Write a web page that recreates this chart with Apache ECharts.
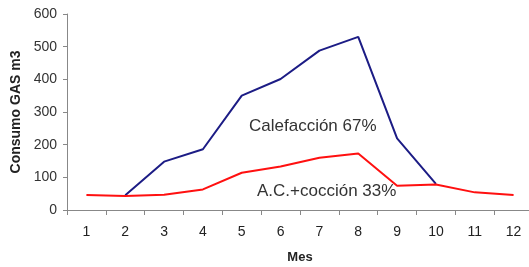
<!DOCTYPE html>
<html><head><meta charset="utf-8">
<script src="https://cdn.jsdelivr.net/npm/echarts@6/dist/echarts.min.js"></script>
<style>html,body{margin:0;padding:0;background:#fff}#c{width:529px;height:267px}</style>
</head><body><div id="c"></div>
<script>
const months = ['1','2','3','4','5','6','7','8','9','10','11','12'];
const calefaccion = [null, 45, 148, 186, 350, 401, 488, 530, 219, 80, null, null];
const acCoccion = [46, 43, 47, 63, 114, 133, 160, 173, 74, 78, 54, 46];
const yTicks = [0, 100, 200, 300, 400, 500, 600];
const labelCalef = 'Calefacción 67%';
const labelAC = 'A.C.+cocción 33%';

const chart = echarts.init(document.getElementById('c'));
const font = 'Liberation Sans, Arial, sans-serif';
chart.setOption({
  animation: false,
  grid: {left: 67, right: -4, top: 14, bottom: 57, containLabel: false, outerBoundsMode: 'none'},
  xAxis: {
    type: 'category', data: months, boundaryGap: true,
    name: 'Mes', nameLocation: 'middle', nameGap: 41,
    nameTextStyle: {fontFamily: font, fontWeight: 'bold', fontSize: 13, color: '#222'},
    axisLine: {lineStyle: {color: '#888', width: 1}},
    axisTick: {show: true, length: 5, lineStyle: {color: '#888'}},
    axisLabel: {fontFamily: font, fontSize: 14, color: '#222', margin: 15}
  },
  yAxis: {
    type: 'value', min: yTicks[0], max: yTicks[yTicks.length-1], interval: 100,
    name: 'Consumo GAS m3', nameLocation: 'middle', nameGap: 39, nameRotate: 90,
    nameTextStyle: {fontFamily: font, fontWeight: 'bold', fontSize: 14, color: '#222'},
    axisLine: {show: true, lineStyle: {color: '#888', width: 1}},
    axisTick: {show: true, length: 4, lineStyle: {color: '#888'}},
    splitLine: {show: false},
    axisLabel: {fontFamily: font, fontSize: 14, color: '#333', margin: 10}
  },
  series: [
    {type: 'line', data: calefaccion, symbol: 'none', connectNulls: false,
     lineStyle: {color: '#1c1c85', width: 2}, z: 2},
    {type: 'line', data: acCoccion, symbol: 'none',
     lineStyle: {color: '#ff1010', width: 2}, z: 3}
  ],
  graphic: [
    {type: 'text', left: 249, top: 118, style: {text: labelCalef, font: '17px ' + font, fill: '#333'}},
    {type: 'text', left: 257, top: 183, style: {text: labelAC, font: '17px ' + font, fill: '#333'}}
  ]
});
</script></body></html>
